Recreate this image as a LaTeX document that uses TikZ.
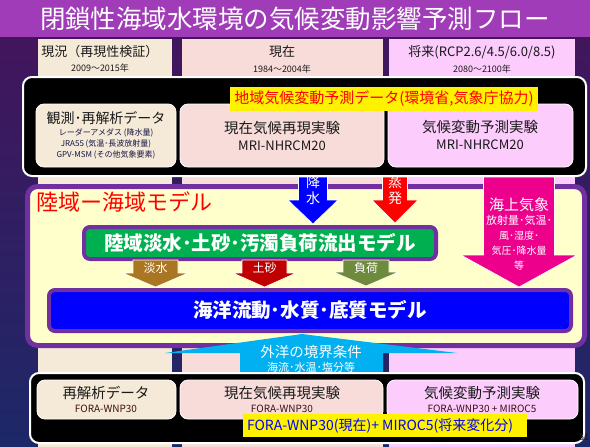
\documentclass[tikz,border=0pt]{standalone}
\usepackage{fontspec}
\setmainfont{Noto Sans CJK JP}
\usetikzlibrary{calc}
\definecolor{titlebar}{RGB}{160,60,184}
\definecolor{bgtop}{RGB}{70,20,92}
\definecolor{bgbot}{RGB}{28,40,104}
\definecolor{colA}{RGB}{245,234,215}
\definecolor{colB}{RGB}{248,220,218}
\definecolor{colC}{RGB}{252,204,252}
\definecolor{modelfill}{RGB}{255,255,204}
\definecolor{modelline}{RGB}{112,48,160}
\definecolor{grn}{RGB}{0,176,80}
\definecolor{arrBrown}{RGB}{170,118,34}
\definecolor{arrRed}{RGB}{192,0,0}
\definecolor{arrOlive}{RGB}{110,139,61}
\definecolor{cyanA}{RGB}{0,176,240}
\definecolor{darktxt}{RGB}{25,25,25}
\definecolor{navytxt}{RGB}{20,20,70}
\definecolor{foratxt}{RGB}{60,15,15}
\newcommand\fsz[1]{\fontsize{#1}{#1}\selectfont}
% down block arrow: color, xc, ytop, shaft half, head start, head half, tip
\newcommand\dnarrow[7]{%
  \filldraw[fill=#1,draw=white,line width=0.6pt,line join=miter]
    ({#2-#4},#3) -- ({#2+#4},#3) -- ({#2+#4},#5) -- ({#2+#6},#5) --
    (#2,#7) -- ({#2-#6},#5) -- ({#2-#4},#5) -- cycle;}
\tikzset{
  blackbox/.style={fill=black,draw=white,line width=2pt,rounded corners=9pt},
  innerbox/.style={draw=white,line width=0.8pt,rounded corners=8pt},
  txt/.style={inner sep=0pt,outer sep=0pt},
}
\begin{document}
\begin{tikzpicture}[x=1pt,y=-1pt]
\useasboundingbox (0,0) rectangle (590,447);
% background
\shade[top color=bgtop,bottom color=bgbot] (0,0) rectangle (590,447);
\fill[titlebar] (0,0) rectangle (590,37);
\node[txt,text=white] (title) at (295,19) {\fsz{25.5}閉鎖性海域水環境の気候変動影響予測フロー};
% column bands
\fill[colA] (38,39) rectangle (172,447);
\fill[colB] (182,39) rectangle (383,447);
\fill[colC] (389,39) rectangle (575,447);
\node[txt,text=darktxt] (h1) at (100,52) {\fsz{13}現況（再現性検証）};
\node[txt,text=darktxt] (h1y) at (100,68) {\fsz{9}2009〜2015年};
\node[txt,text=darktxt] (h2) at (282,52) {\fsz{13}現在};
\node[txt,text=darktxt] (h2y) at (282,69) {\fsz{9}1984〜2004年};
\node[txt,text=darktxt] (h3) at (482,52) {\fsz{13}将来(RCP2.6/4.5/6.0/8.5)};
\node[txt,text=darktxt] (h3y) at (482,69) {\fsz{9}2080〜2100年};
% top black box
\draw[blackbox] (23,77) rectangle (586,176);
\draw[innerbox,fill=colA] (36,104) rectangle (176,167);
\draw[innerbox,fill=colB] (180,104) rectangle (384,167);
\draw[innerbox,fill=colC] (388,104) rectangle (573,167);
\fill[yellow] (230,87) rectangle (538,111);
\node[txt,text=red] (rcd) at (384,99) {\fsz{15}地域気候変動予測データ(環境省,気象庁協力)};
\node[txt,text=darktxt] (obs) at (106,118) {\fsz{14}観測･再解析データ};
\node[txt,text=navytxt] (obs1) at (106,133) {\fsz{8}レーダーアメダス (降水量)};
\node[txt,text=navytxt] (obs2) at (106,144) {\fsz{8}JRA55 (気温･長波放射量)};
\node[txt,text=navytxt] (obs3) at (106,155) {\fsz{8}GPV-MSM (その他気象要素)};
\node[txt,text=darktxt] (pr1) at (282,128) {\fsz{14.5}現在気候再現実験};
\node[txt,text=darktxt] (pr2) at (282,146) {\fsz{13}MRI-NHRCM20};
\node[txt,text=darktxt] (fu1) at (480,127) {\fsz{14.5}気候変動予測実験};
\node[txt,text=darktxt] (fu2) at (480,145) {\fsz{13}MRI-NHRCM20};
% model area
\draw[fill=modelfill,draw=modelline,line width=5pt,rounded corners=10pt] (27.5,186.5) rectangle (584.5,345.5);
\node[txt,text=red,anchor=west] (mtitle) at (37,202) {\fsz{22}陸域ー海域モデル};
\draw[fill=grn,draw=modelline,line width=4pt,rounded corners=6pt] (84,227) rectangle (436,259);
\node[txt,text=white] (land) at (260,243) {\fsz{19.5}\bfseries 陸域淡水･土砂･汚濁負荷流出モデル};
\draw[fill=blue,draw=modelline,line width=4pt,rounded corners=6pt] (49,290) rectangle (571,331);
\node[txt,text=white] (ocean) at (310,310) {\fsz{19.5}\bfseries 海洋流動･水質･底質モデル};
% arrows from above
\dnarrow{blue}{313}{177}{14.5}{200}{25}{224}
\node[txt,text=white] (rain) at (313,190) {\fsz{14}\shortstack{降\\水}};
\dnarrow{red}{395}{177}{12.5}{200}{23}{223}
\node[txt,text=white] (evap) at (395,190) {\fsz{14}\shortstack{蒸\\発}};
\dnarrow{magenta}{519}{177}{35.5}{255}{58}{287}
\node[txt,text=white] (met) at (519,205) {\fsz{15}海上気象};
\node[txt,text=white,align=center] (met2) at (519,243) {\fsz{11}放射量･気温･\\[3pt]風･湿度･\\[3pt]気圧･降水量\\[3pt]等};
% small arrows
\dnarrow{arrBrown}{155.5}{260}{22.5}{273}{32.5}{287}
\node[txt,text=white] (fresh) at (155.5,268) {\fsz{12}淡水};
\dnarrow{arrRed}{264.5}{260}{22.5}{273}{31.5}{287}
\node[txt,text=white] (sed) at (264.5,268) {\fsz{12}土砂};
\dnarrow{arrOlive}{366}{260}{23}{272}{32.5}{286}
\node[txt,text=white] (load) at (366,268) {\fsz{12}負荷};
% ocean boundary arrow (up)
\fill[cyanA] (240,380) -- (240,353) -- (165,353) -- (302,334) -- (457,353) -- (383,353) -- (383,380) -- cycle;
\node[txt,text=white] (bnd) at (311,352) {\fsz{14.5}外洋の境界条件};
\node[txt,text=white] (bnd2) at (311,367) {\fsz{11}海流･水温･塩分等};
% bottom black box
\draw[blackbox] (30,373) rectangle (584,443);
\draw[innerbox,fill=colA] (37,380) rectangle (176,419);
\draw[innerbox,fill=colB] (180,380) rectangle (383,419);
\draw[innerbox,fill=colC] (387,380) rectangle (578,419);
\node[txt,text=darktxt] (b1) at (106,393) {\fsz{14.5}再解析データ};
\node[txt,text=foratxt] (b1f) at (106,409) {\fsz{10}FORA-WNP30};
\node[txt,text=darktxt] (b2) at (282,393) {\fsz{14.5}現在気候再現実験};
\node[txt,text=foratxt] (b2f) at (282,409) {\fsz{10}FORA-WNP30};
\node[txt,text=darktxt] (b3) at (482,393) {\fsz{14.5}気候変動予測実験};
\node[txt,text=foratxt] (b3f) at (482,409) {\fsz{10}FORA-WNP30 + MIROC5};
\fill[yellow] (243,414) rectangle (527,437);
\node[txt,text=blue,anchor=west] (fw) at (247,425.5) {\fsz{14}FORA-WNP30(現在)+ MIROC5(将来変化分)};
\node[txt,text=darktxt,anchor=east] (pg) at (589,437) {\fsz{9}51};
\end{tikzpicture}
\end{document}
